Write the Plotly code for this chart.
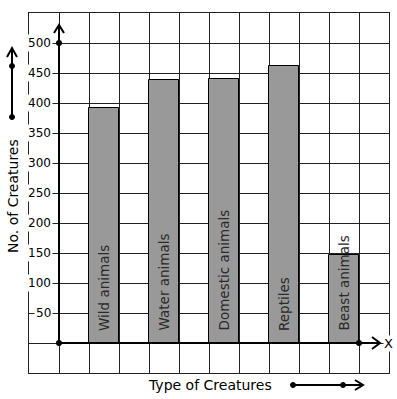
import plotly.graph_objects as go

categories = ["Wild animals", "Water animals", "Domestic animals", "Reptiles", "Beast animals"]
values = [392, 438, 440, 462, 147]
x_positions = [1.5, 3.5, 5.5, 7.5, 9.5]
y_tick_values = [50, 100, 150, 200, 250, 300, 350, 400, 450, 500]

W, H = 397, 399
L, R, T, B = 29, 8, 13, 26
PW, PH = W - L - R, H - T - B

def px(xp):
    return (xp - L) / PW

def py(yp):
    return (H - B - yp) / PH

FONT = "DejaVu Sans"

fig = go.Figure()
fig.add_trace(go.Bar(
    x=x_positions, y=values, width=1,
    marker=dict(color="#999999", line=dict(color="black", width=1)),
    hoverinfo="skip", showlegend=False,
))
fig.add_trace(go.Scatter(
    x=[0, 0, 10], y=[0, 500, 0], mode="markers",
    marker=dict(color="black", size=6), cliponaxis=False,
    showlegend=False, hoverinfo="skip",
))

shapes = []
# axes
shapes.append(dict(type="line", x0=0, y0=0, x1=0, y1=530, xref="x", yref="y",
                   line=dict(color="black", width=2)))
shapes.append(dict(type="line", x0=0, y0=0, x1=10.7, y1=0, xref="x", yref="y",
                   line=dict(color="black", width=2)))
# chevrons on axes
shapes.append(dict(type="path", path="M -0.167,516.7 L 0,530 L 0.167,516.7",
                   xref="x", yref="y", line=dict(color="black", width=2)))
shapes.append(dict(type="path", path="M 10.433,-10 L 10.7,0 L 10.433,10",
                   xref="x", yref="y", line=dict(color="black", width=2)))

# y-title arrow (paper)
ax = px(12)
shapes.append(dict(type="line", xref="paper", yref="paper", x0=ax, x1=ax,
                   y0=py(117), y1=py(48), line=dict(color="black", width=2)))
shapes.append(dict(type="path", xref="paper", yref="paper",
                   path=f"M {px(7)},{py(57)} L {ax},{py(48)} L {px(17)},{py(57)}",
                   line=dict(color="black", width=2)))
for yy in (117, 66):
    r = 2.5
    shapes.append(dict(type="circle", xref="paper", yref="paper",
                       x0=px(12 - r), x1=px(12 + r), y0=py(yy + r), y1=py(yy - r),
                       fillcolor="black", line=dict(color="black", width=1)))
# x-title arrow (paper)
ay = py(385)
shapes.append(dict(type="line", xref="paper", yref="paper", x0=px(293), x1=px(363),
                   y0=ay, y1=ay, line=dict(color="black", width=2)))
shapes.append(dict(type="path", xref="paper", yref="paper",
                   path=f"M {px(355)},{py(380)} L {px(363)},{ay} L {px(355)},{py(390)}",
                   line=dict(color="black", width=2)))
for xx in (293, 343):
    r = 2.5
    shapes.append(dict(type="circle", xref="paper", yref="paper",
                       x0=px(xx - r), x1=px(xx + r), y0=py(385 + r), y1=py(385 - r),
                       fillcolor="black", line=dict(color="black", width=1)))

annotations = []
for v in y_tick_values:
    annotations.append(dict(x=-0.2, y=v, xref="x", yref="y", text=str(v),
                            showarrow=False, xanchor="right", yanchor="middle",
                            bgcolor="white", borderpad=1,
                            font=dict(family=FONT, size=12, color="black")))
for cat, xv in zip(categories, x_positions):
    annotations.append(dict(x=xv, y=16.7, xref="x", yref="y", text=cat,
                            showarrow=False, textangle=-90, xanchor="center",
                            yanchor="bottom",
                            font=dict(family=FONT, size=13.5, color="#2a2a2a")))
annotations.append(dict(x=0.07, y=555, xref="x", yref="y", text="Y", showarrow=False,
                        xanchor="center", yanchor="middle",
                        bgcolor="white", borderpad=0,
                        font=dict(family=FONT, size=13, color="black")))
annotations.append(dict(x=10.97, y=0, xref="x", yref="y", text="X", showarrow=False,
                        xanchor="center", yanchor="middle",
                        bgcolor="white", borderpad=0,
                        font=dict(family=FONT, size=13, color="black")))
annotations.append(dict(x=px(13), y=py(196), xref="paper", yref="paper",
                        text="No. of Creatures", showarrow=False, textangle=-90,
                        xanchor="center", yanchor="middle",
                        font=dict(family=FONT, size=14, color="black")))
annotations.append(dict(x=px(210), y=py(385), xref="paper", yref="paper",
                        text="Type of Creatures", showarrow=False,
                        xanchor="center", yanchor="middle",
                        font=dict(family=FONT, size=14, color="black")))

fig.update_layout(
    width=W, height=H, autosize=False,
    margin=dict(l=L, r=R, t=T, b=B, pad=0),
    paper_bgcolor="white", plot_bgcolor="white",
    shapes=shapes, annotations=annotations,
    xaxis=dict(range=[-1, 11], dtick=1, tick0=0, showgrid=True, gridcolor="#222222",
               gridwidth=1, zeroline=False, showticklabels=False, ticks="",
               showline=True, mirror=True, linecolor="#222222", linewidth=1,
               fixedrange=True),
    yaxis=dict(range=[-50, 550], dtick=50, tick0=0, showgrid=True, gridcolor="#222222",
               gridwidth=1, zeroline=False, showticklabels=False, ticks="",
               showline=True, mirror=True, linecolor="#222222", linewidth=1,
               fixedrange=True),
    bargap=0,
)

fig.write_html("out.html", config=dict(displayModeBar=False),
               post_script="document.body.style.margin='0';document.body.style.padding='0';")
